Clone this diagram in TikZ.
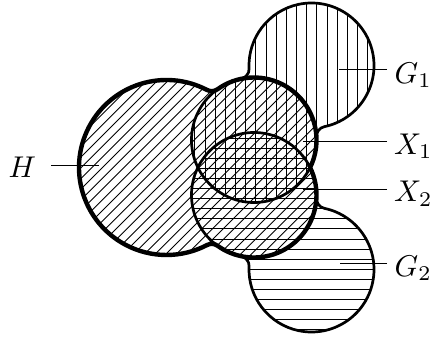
\documentclass[tikz,border=0pt]{standalone}
\begin{document}
\begin{tikzpicture}[x=1pt,y=1pt,
  hatch/.style={line width=0.9pt},
  Gline/.style={line width=2.7pt, line join=round},
  Hline/.style={line width=4.4pt, line join=round},
  lab/.style={inner sep=0pt},
  leader/.style={line width=1pt}]
\newcommand{\biglab}[1]{\scalebox{3}{$#1$}}
\useasboundingbox (0,0) rectangle (433,345);
\def\Hpath{(166.5,177.5) ++(62.38:87.5) arc[start angle=62.38,end angle=297.62,radius=87.5] arc[start angle=117.62,end angle=54.32,radius=10] arc[start angle=234.32,end angle=386.10,radius=62.5] arc[start angle=-26.10,end angle=125.68,radius=62.5] arc[start angle=305.68,end angle=242.38,radius=10] -- cycle}
\def\Gonepath{(311.5,279.5) ++(281.87:62.5) arc[start angle=281.87,end angle=542.81,radius=62.5] arc[start angle=2.81,end angle=-78.13,radius=10] arc[start angle=101.87,end angle=362.81,radius=62.5] arc[start angle=182.81,end angle=101.87,radius=10] -- cycle}
\def\Gtwopath{(311.5,75.5) ++(-281.87:62.5) arc[start angle=-281.87,end angle=-542.81,radius=62.5] arc[start angle=-2.81,end angle=78.13,radius=10] arc[start angle=-101.87,end angle=-362.81,radius=62.5] arc[start angle=-182.81,end angle=-101.87,radius=10] -- cycle}
% hatching
\begin{scope}
  \clip \Hpath;
  \foreach \k in {-23,...,19}
    \draw[hatch] (60,{60+10.7*(\k)}) -- (340,{340+10.7*(\k)});
\end{scope}
\begin{scope}
  \clip \Gonepath;
  \foreach \k in {-2,...,17}
    \draw[hatch] ({205+10.17*(\k)},120) -- ({205+10.17*(\k)},350);
\end{scope}
\begin{scope}
  \clip \Gtwopath;
  \foreach \k in {-11,...,10}
    \draw[hatch] (180,{106-10.1*(\k)}) -- (380,{106-10.1*(\k)});
\end{scope}
% outlines
\draw[Gline] \Gonepath;
\draw[Gline] \Gtwopath;
\draw[Hline] \Hpath;
% labels
\node[lab, anchor=base west] (Hl) at (8.5,167) {\biglab{H}};
\node[lab, anchor=base west] (G1l) at (394.5,261.5) {\biglab{G_1}};
\node[lab, anchor=base west] (X1l) at (394,190.5) {\biglab{X_1}};
\node[lab, anchor=base west] (X2l) at (394,143) {\biglab{X_2}};
\node[lab, anchor=base west] (G2l) at (394.5,68.5) {\biglab{G_2}};
% leaders
\coordinate (Hs) at (51,179.3);   \coordinate (He) at (99,179.3);
\coordinate (G1s) at (387,275);   \coordinate (G1e) at (339,275);
\coordinate (X1s) at (387,203.3); \coordinate (X1e) at (303,203.3);
\coordinate (X2s) at (387,155);   \coordinate (X2e) at (303,155);
\coordinate (G2s) at (387,81.7);  \coordinate (G2e) at (340,81.7);
\draw[leader] (Hs) -- (He);
\draw[leader] (G1s) -- (G1e);
\draw[leader] (X1s) -- (X1e);
\draw[leader] (X2s) -- (X2e);
\draw[leader] (G2s) -- (G2e);
\end{tikzpicture}
\end{document}
